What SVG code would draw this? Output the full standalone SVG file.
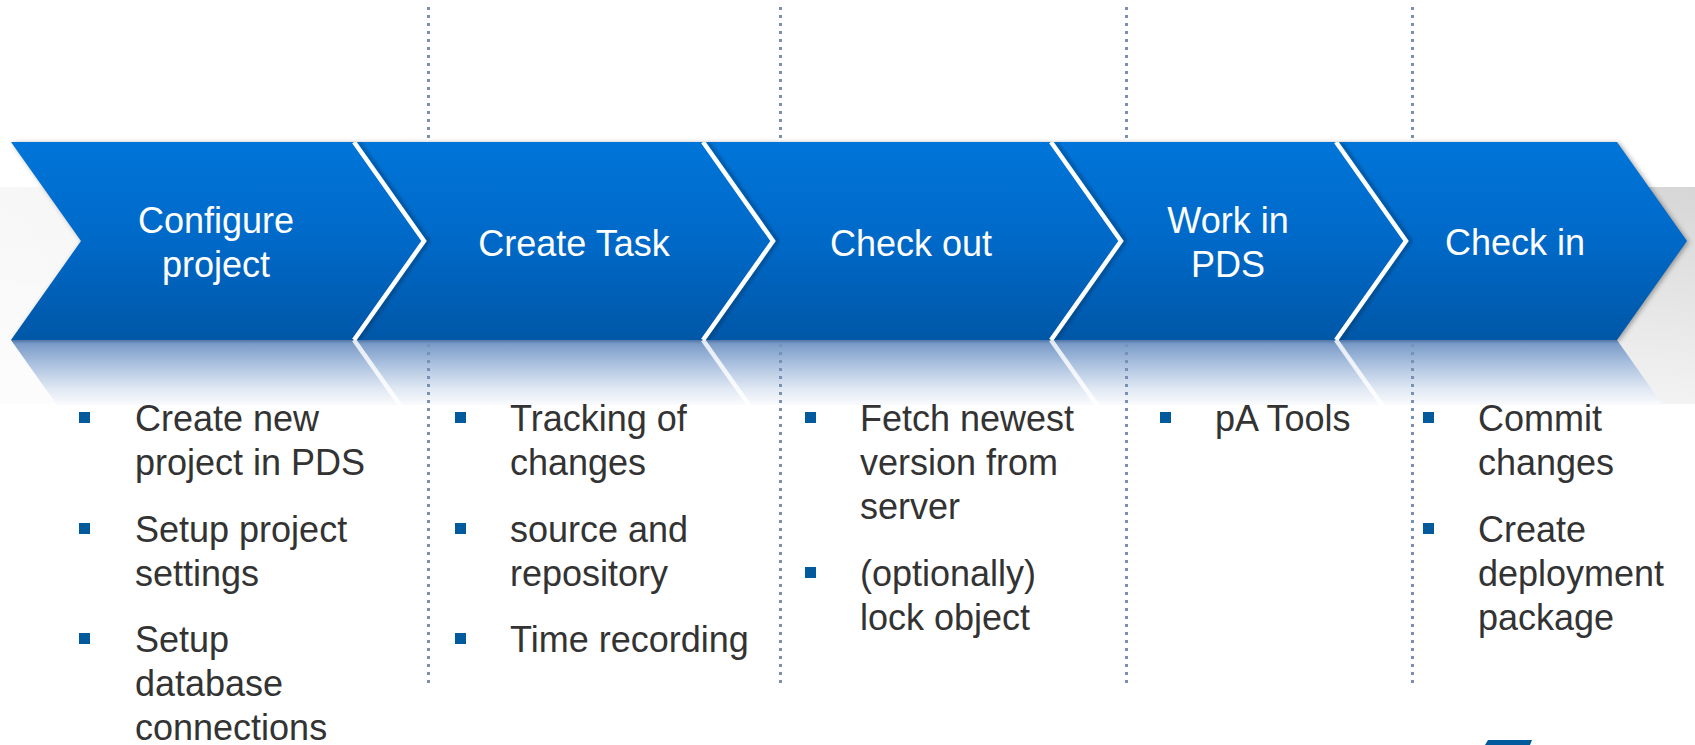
<svg xmlns="http://www.w3.org/2000/svg" width="1695" height="745" viewBox="0 0 1695 745">
<defs>
<style>
.lbl{font-family:"Liberation Sans",Arial,sans-serif;font-size:36px;fill:#ffffff;text-anchor:middle}
.txt{font-family:"Liberation Sans",Arial,sans-serif;font-size:36px;fill:#333333}
.bul{fill:#005a9c}
.chev{fill:url(#blueGrad)}
.refl{fill:url(#reflGrad)}
.sep{fill:none;stroke:#ffffff;stroke-width:4.5;stroke-linejoin:miter}
.rsep{fill:none;stroke:#ffffff;stroke-width:4.5;stroke-opacity:0.8}
.sepsh{fill:none;stroke:#0a2240;stroke-opacity:0.4;stroke-width:3;filter:url(#blur)}
.div{stroke:#7a91b6;stroke-width:3;stroke-dasharray:3 5;fill:none}
</style>
<linearGradient id="blueGrad" gradientUnits="userSpaceOnUse" x1="0" y1="142" x2="0" y2="340">
<stop offset="0" stop-color="#0075d9"/>
<stop offset="0.5" stop-color="#0069c8"/>
<stop offset="1" stop-color="#0057a7"/>
</linearGradient>
<linearGradient id="reflGrad" gradientUnits="userSpaceOnUse" x1="0" y1="340" x2="0" y2="405">
<stop offset="0" stop-color="#4f74a6"/>
<stop offset="0.06" stop-color="#7a9bc8"/>
<stop offset="0.35" stop-color="#a8bfde"/>
<stop offset="0.75" stop-color="#e0e8f3"/>
<stop offset="1" stop-color="#fafbfd"/>
</linearGradient>
<linearGradient id="bandH" gradientUnits="userSpaceOnUse" x1="0" y1="0" x2="1695" y2="0">
<stop offset="0" stop-color="#f7f7f7"/>
<stop offset="0.5" stop-color="#ebebeb"/>
<stop offset="1" stop-color="#d6d6d6"/>
</linearGradient>
<linearGradient id="bandV" gradientUnits="userSpaceOnUse" x1="0" y1="187" x2="0" y2="404">
<stop offset="0" stop-color="#ffffff" stop-opacity="0"/>
<stop offset="1" stop-color="#ffffff" stop-opacity="0.7"/>
</linearGradient>
<filter id="blur" x="-20%" y="-20%" width="140%" height="140%">
<feGaussianBlur stdDeviation="1.5"/>
</filter>
<filter id="shadow" x="-5%" y="-20%" width="110%" height="140%">
<feGaussianBlur stdDeviation="2.5"/>
</filter>
<clipPath id="bandClip"><rect x="0" y="142" width="1695" height="198"/></clipPath>
<clipPath id="reflClip"><rect x="0" y="340" width="1695" height="65"/></clipPath>
</defs>

<rect x="0" y="0" width="1695" height="745" fill="#ffffff"/>

<g id="background">
<rect x="0" y="187" width="1695" height="217" fill="url(#bandH)"/>
<rect x="0" y="187" width="1695" height="217" fill="url(#bandV)"/>
<path d="M11,142 H1617 L1687,241 L1617,340 H11 L81,241 Z" fill="#000000" fill-opacity="0.35" transform="translate(2,1)" filter="url(#shadow)"/>
</g>

<g id="step1">
<path class="chev" d="M11,142 H354 L424,241 L354,340 H11 L81,241 Z"/>
<path class="refl" clip-path="url(#reflClip)" d="M11,340 H354 L424,439 L354,538 H11 L81,439 Z"/>
<text class="lbl" x="216" y="233">Configure</text>
<text class="lbl" x="216" y="277">project</text>
<rect class="bul" x="79" y="412" width="11" height="11"/>
<rect class="bul" x="79" y="523" width="11" height="11"/>
<rect class="bul" x="79" y="633" width="11" height="11"/>
<text class="txt" x="135" y="431">Create new</text>
<text class="txt" x="135" y="475">project in PDS</text>
<text class="txt" x="135" y="542">Setup project</text>
<text class="txt" x="135" y="586">settings</text>
<text class="txt" x="135" y="652">Setup</text>
<text class="txt" x="135" y="696">database</text>
<text class="txt" x="135" y="740">connections</text>
</g>

<g id="step2">
<path class="chev" d="M354,142 H703 L773,241 L703,340 H354 L424,241 Z"/>
<path class="refl" clip-path="url(#reflClip)" d="M354,340 H703 L773,439 L703,538 H354 L424,439 Z"/>
<path class="sepsh" clip-path="url(#bandClip)" d="M359,142 L429,241 L359,340"/>
<path class="sep" clip-path="url(#bandClip)" d="M354,142 L424,241 L354,340"/>
<path class="rsep" clip-path="url(#reflClip)" d="M354,340 L424,439"/>
<text class="lbl" x="574" y="256">Create Task</text>
<rect class="bul" x="455" y="412" width="11" height="11"/>
<rect class="bul" x="455" y="523" width="11" height="11"/>
<rect class="bul" x="455" y="633" width="11" height="11"/>
<text class="txt" x="510" y="431">Tracking of</text>
<text class="txt" x="510" y="475">changes</text>
<text class="txt" x="510" y="542">source and</text>
<text class="txt" x="510" y="586">repository</text>
<text class="txt" x="510" y="652">Time recording</text>
</g>

<g id="step3">
<path class="chev" d="M703,142 H1051 L1121,241 L1051,340 H703 L773,241 Z"/>
<path class="refl" clip-path="url(#reflClip)" d="M703,340 H1051 L1121,439 L1051,538 H703 L773,439 Z"/>
<path class="sepsh" clip-path="url(#bandClip)" d="M708,142 L778,241 L708,340"/>
<path class="sep" clip-path="url(#bandClip)" d="M703,142 L773,241 L703,340"/>
<path class="rsep" clip-path="url(#reflClip)" d="M703,340 L773,439"/>
<text class="lbl" x="911" y="256">Check out</text>
<rect class="bul" x="805" y="412" width="11" height="11"/>
<rect class="bul" x="805" y="567" width="11" height="11"/>
<text class="txt" x="860" y="431">Fetch newest</text>
<text class="txt" x="860" y="475">version from</text>
<text class="txt" x="860" y="519">server</text>
<text class="txt" x="860" y="586">(optionally)</text>
<text class="txt" x="860" y="630">lock object</text>
</g>

<g id="step4">
<path class="chev" d="M1051,142 H1336 L1406,241 L1336,340 H1051 L1121,241 Z"/>
<path class="refl" clip-path="url(#reflClip)" d="M1051,340 H1336 L1406,439 L1336,538 H1051 L1121,439 Z"/>
<path class="sepsh" clip-path="url(#bandClip)" d="M1056,142 L1126,241 L1056,340"/>
<path class="sep" clip-path="url(#bandClip)" d="M1051,142 L1121,241 L1051,340"/>
<path class="rsep" clip-path="url(#reflClip)" d="M1051,340 L1121,439"/>
<text class="lbl" x="1228" y="233">Work in</text>
<text class="lbl" x="1228" y="277">PDS</text>
<rect class="bul" x="1160" y="412" width="11" height="11"/>
<text class="txt" x="1215" y="431">pA Tools</text>
</g>

<g id="step5">
<path class="chev" d="M1336,142 H1617 L1687,241 L1617,340 H1336 L1406,241 Z"/>
<path class="refl" clip-path="url(#reflClip)" d="M1336,340 H1617 L1687,439 L1617,538 H1336 L1406,439 Z"/>
<path class="sepsh" clip-path="url(#bandClip)" d="M1341,142 L1411,241 L1341,340"/>
<path class="sep" clip-path="url(#bandClip)" d="M1336,142 L1406,241 L1336,340"/>
<path class="rsep" clip-path="url(#reflClip)" d="M1336,340 L1406,439"/>
<text class="lbl" x="1515" y="255">Check in</text>
<rect class="bul" x="1423" y="412" width="11" height="11"/>
<rect class="bul" x="1423" y="523" width="11" height="11"/>
<text class="txt" x="1478" y="431">Commit</text>
<text class="txt" x="1478" y="475">changes</text>
<text class="txt" x="1478" y="542">Create</text>
<text class="txt" x="1478" y="586">deployment</text>
<text class="txt" x="1478" y="630">package</text>
</g>

<g id="dividers">
<line class="div" x1="428.5" y1="7" x2="428.5" y2="140"/>
<line class="div" x1="428.5" y1="344" x2="428.5" y2="688"/>
<line class="div" x1="780.5" y1="7" x2="780.5" y2="140"/>
<line class="div" x1="780.5" y1="344" x2="780.5" y2="688"/>
<line class="div" x1="1126.5" y1="7" x2="1126.5" y2="140"/>
<line class="div" x1="1126.5" y1="344" x2="1126.5" y2="688"/>
<line class="div" x1="1412.5" y1="7" x2="1412.5" y2="140"/>
<line class="div" x1="1412.5" y1="344" x2="1412.5" y2="688"/>
</g>

<g id="logo">
<polygon points="1488,740 1532,740 1530,745 1485,745" fill="#005a9c"/>
</g>
</svg>
